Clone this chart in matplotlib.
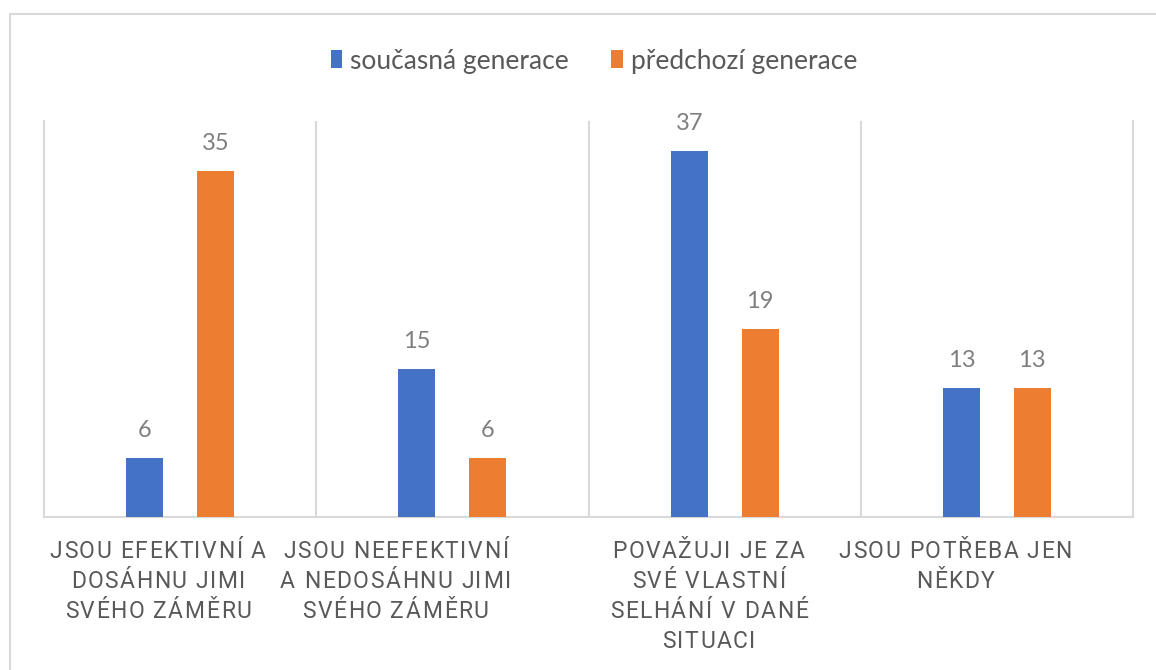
import matplotlib
matplotlib.use("Agg")
import matplotlib.pyplot as plt
from matplotlib.patches import Rectangle
from matplotlib.font_manager import FontProperties
from matplotlib.textpath import TextToPath
import numpy as np

categories = [
    ["JSOU EFEKTIVNÍ A", "DOSÁHNU JIMI", "SVÉHO ZÁMĚRU"],
    ["JSOU NEEFEKTIVNÍ", "A NEDOSÁHNU JIMI", "SVÉHO ZÁMĚRU"],
    ["POVAŽUJI JE ZA", "SVÉ VLASTNÍ", "SELHÁNÍ V DANÉ", "SITUACI"],
    ["JSOU POTŘEBA JEN", "NĚKDY"],
]
series_names = ["současná generace", "předchozí generace"]
current_gen = [6, 15, 37, 13]
previous_gen = [35, 6, 19, 13]

BLUE = "#4472C4"
ORANGE = "#ED7D31"
GRID = "#D9D9D9"
TEXT = "#595959"
LABEL = "#7F7F7F"
FONT = ["Lato", "DejaVu Sans"]
LABEL_FONT = ["Roboto", "DejaVu Sans"]

plt.rcParams["font.family"] = FONT

fig = plt.figure(figsize=(11.56, 6.70), dpi=100)
ax = fig.add_axes([44 / 1156, 1 - 517 / 670, (1133 - 44) / 1156, (517 - 121) / 670])

x = np.arange(len(categories))
offset = 0.13
width = 0.136
bars_a = ax.bar(x - offset, current_gen, width, color=BLUE, label=series_names[0], zorder=3)
bars_b = ax.bar(x + offset, previous_gen, width, color=ORANGE, label=series_names[1], zorder=3)

for bars in (bars_a, bars_b):
    for rect in bars:
        h = rect.get_height()
        ax.annotate(f"{h:g}", (rect.get_x() + rect.get_width() / 2, h),
                    xytext=(0, 15), textcoords="offset points",
                    ha="center", va="baseline", fontsize=17, color=LABEL)

ax.set_xlim(-0.5, len(categories) - 0.5)
ax.set_ylim(0, 40)
ax.set_yticks([])
ax.set_xticks([])

# category separators
for b in np.arange(0.5, len(categories) - 0.5, 1.0):
    ax.axvline(b, color=GRID, lw=1.5, zorder=1)

for side in ("left", "right", "bottom"):
    ax.spines[side].set_color(GRID)
    ax.spines[side].set_linewidth(1.5)
ax.spines["top"].set_visible(False)

# category labels with widened letter tracking, drawn glyph by glyph
label_size = 16.5
tracking = 1.1          # extra space between glyphs, points
first_baseline = 29.5   # below the axis line, points
line_pitch = 21.6       # points
label_shift = [-16, -41, -11.5, -30]   # horizontal nudge of each label block, points
prop = FontProperties(family=LABEL_FONT, size=label_size)
t2p = TextToPath()


def glyph_width(ch):
    w, _, _ = t2p.get_text_width_height_descent(ch, prop, ismath=False)
    return w


for xi, lines, shift in zip(x, categories, label_shift):
    for li, line in enumerate(lines):
        widths = [glyph_width(ch) for ch in line]
        total = sum(widths) + tracking * (len(line) - 1)
        cursor = shift - total / 2
        y_off = -(first_baseline + li * line_pitch)
        for ch, w in zip(line, widths):
            if ch != " ":
                ax.annotate(ch, (xi, 0), xycoords=("data", "axes fraction"),
                            xytext=(cursor, y_off), textcoords="offset points",
                            ha="left", va="baseline", fontproperties=prop,
                            color=TEXT, annotation_clip=False)
            cursor += w + tracking

leg = fig.legend(handles=[bars_a, bars_b], labels=series_names, loc="center",
                 bbox_to_anchor=(594 / 1156, 1 - 61 / 670), ncol=2, frameon=False,
                 fontsize=19, handlelength=0.45, handleheight=0.65, handletextpad=0.3,
                 columnspacing=1.6, labelcolor=TEXT)

# outer chart frame
fig.patches.append(Rectangle((9.5 / 1156, -0.05), 1.1, 1 - 14 / 670 + 0.05,
                             transform=fig.transFigure, fill=False,
                             edgecolor=GRID, lw=1.5))

fig.savefig("out.png", dpi=100)
